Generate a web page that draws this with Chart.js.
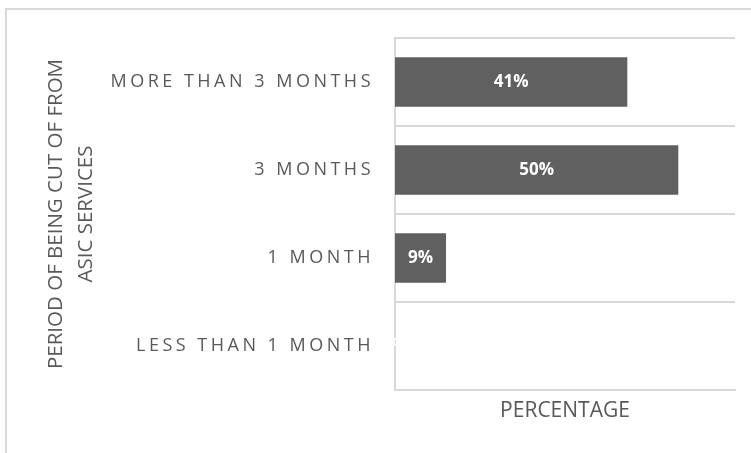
<!DOCTYPE html>
<html>
<head>
<meta charset="utf-8">
<script src="https://cdn.jsdelivr.net/npm/chart.js@4.4.0/dist/chart.umd.min.js"></script>
<style>
  html, body { margin: 0; padding: 0; background: #fff; overflow: hidden; }
  #frame { position: absolute; left: 5px; top: 8px; width: 800px; height: 500px; border: 2px solid #d9d9d9; }
  #myChart { position: absolute; left: 0; top: 0; }
</style>
</head>
<body>
<div id="frame"></div>
<canvas id="myChart" width="751" height="453"></canvas>
<script>
const categories = ["MORE THAN 3 MONTHS", "3 MONTHS", "1 MONTH", "LESS THAN 1 MONTH"];
const percentages = [41, 50, 9, 0];
const axisMax = 60;
const yTitle = ["PERIOD OF BEING CUT OF FROM", "ASIC SERVICES"];
const xTitle = "PERCENTAGE";

const textGray = "#595959";
const lineGray = "#d9d9d9";

// white % labels inside the bars, then switch on letter spacing
// for the y tick labels (they are drawn in a later layer, z: 1)
const valueLabels = {
  id: "valueLabels",
  afterDatasetsDraw(chart) {
    const ctx = chart.ctx;
    const meta = chart.getDatasetMeta(0);
    ctx.save();
    ctx.font = "bold 17px 'Open Sans'";
    ctx.fillStyle = "#ffffff";
    ctx.textAlign = "center";
    ctx.textBaseline = "middle";
    meta.data.forEach((bar, i) => {
      ctx.fillText(percentages[i] + "%", (bar.x + bar.base) / 2, bar.y);
    });
    ctx.restore();
    ctx.letterSpacing = "3.5px";
  },
  afterDraw(chart) {
    chart.ctx.letterSpacing = "0px";
  },
};

const ctx = document.getElementById("myChart");
new Chart(ctx, {
  type: "bar",
  plugins: [valueLabels],
  data: {
    labels: categories,
    datasets: [
      {
        data: percentages,
        backgroundColor: "#606060",
        borderWidth: 0,
        categoryPercentage: 1,
        barPercentage: 0.56,
      },
    ],
  },
  options: {
    indexAxis: "y",
    responsive: false,
    animation: false,
    layout: { padding: { top: 38, right: 16, left: 0, bottom: 0 } },
    plugins: {
      legend: { display: false },
      tooltip: { enabled: false },
    },
    scales: {
      x: {
        min: 0,
        max: axisMax,
        grid: { display: false },
        ticks: { display: false },
        border: { display: true, color: lineGray, width: 2 },
        title: {
          display: true,
          text: xTitle,
          color: textGray,
          font: { family: "'Open Sans'", size: 21 },
          padding: { top: 0, bottom: 29 },
        },
        afterFit(scale) {
          scale.height = 63;
        },
      },
      y: {
        grid: { color: lineGray, lineWidth: 2, drawTicks: false },
        border: { display: true, color: lineGray, width: 2 },
        ticks: {
          z: 1,
          color: textGray,
          padding: 21,
          font: { family: "'Open Sans'", size: 18 },
        },
        title: {
          display: true,
          text: yTitle,
          color: textGray,
          font: { family: "'Open Sans'", size: 20.5, lineHeight: 30 / 20.5 },
          padding: { top: 41, bottom: 0 },
        },
        afterFit(scale) {
          scale.width = 395;
        },
      },
    },
  },
});
</script>
</body>
</html>
